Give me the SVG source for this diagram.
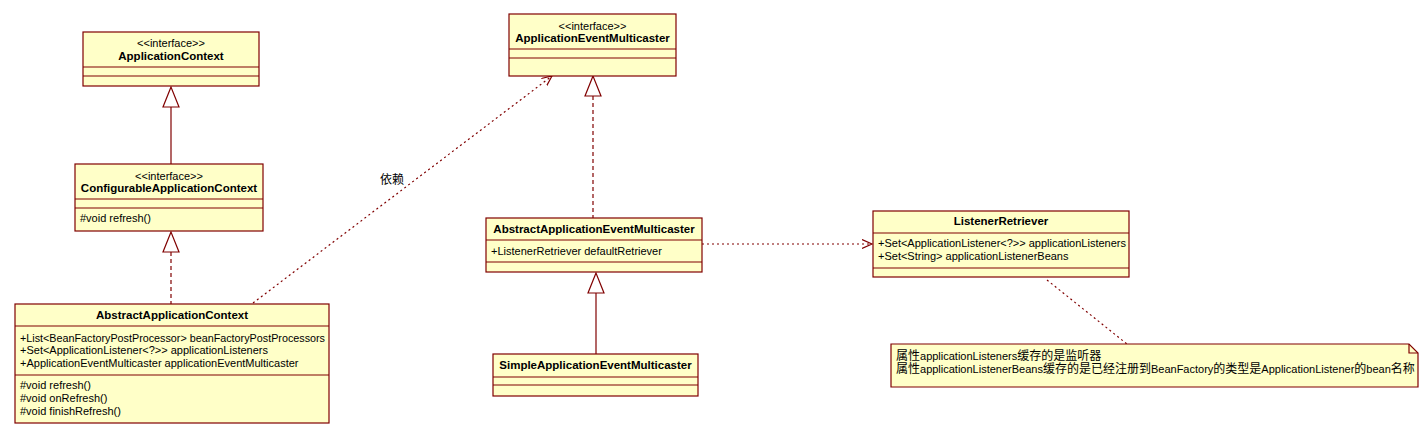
<svg xmlns="http://www.w3.org/2000/svg" width="1427" height="428" viewBox="0 0 1427 428">
<style>
.box{fill:#FFFFC8;stroke:#800000;stroke-width:1.2}
.sep{stroke:#800000;stroke-width:1.2}
.t{font-family:"Liberation Sans","Noto Sans CJK SC",sans-serif;font-size:11px;fill:#000}
.c{font-size:12px}
.b{font-weight:bold;font-size:11.5px}
.m{text-anchor:middle}
.ln{stroke:#800000;stroke-width:1.2;fill:none}
.dash{stroke-dasharray:4,3}
.dot{stroke-dasharray:2,3}
.tri{fill:#fff;stroke:#800000;stroke-width:1.2}
</style>
<defs>
<marker id="open" markerWidth="12" markerHeight="12" refX="10" refY="5" orient="auto" markerUnits="userSpaceOnUse">
<path d="M0,0.5 L10,5 L0,9.5" fill="none" stroke="#800000" stroke-width="1.2"/>
</marker>
</defs>
<rect width="1427" height="428" fill="#fff"/>
<g id="connectors">
<line class="ln" x1="171" y1="107" x2="171" y2="164"/>
<polygon class="tri" points="171,87 163,107 179,107"/>
<line class="ln dash" x1="171" y1="252" x2="171" y2="304"/>
<polygon class="tri" points="171,232 163,252 179,252"/>
<line class="ln dot" x1="253" y1="303" x2="552" y2="76" marker-end="url(#open)"/>
<text class="t c" x="392" y="184" text-anchor="middle">依赖</text>
<line class="ln dash" x1="593" y1="96" x2="593" y2="218"/>
<polygon class="tri" points="593,76 585,96 601,96"/>
<line class="ln" x1="596" y1="293" x2="596" y2="354"/>
<polygon class="tri" points="596,273 588,293 604,293"/>
<line class="ln dot" x1="702" y1="244" x2="872" y2="244" marker-end="url(#open)"/>
<line class="ln dot" x1="1047" y1="280" x2="1127" y2="344"/>
</g>
<g id="ApplicationContext">
<rect class="box" x="83" y="32" width="176" height="54"/>
<line class="sep" x1="83" y1="67" x2="259" y2="67"/>
<line class="sep" x1="83" y1="76" x2="259" y2="76"/>
<text class="t m" x="171" y="47">&lt;&lt;interface&gt;&gt;</text>
<text class="t b m" x="171" y="60">ApplicationContext</text>
</g>
<g id="ConfigurableApplicationContext">
<rect class="box" x="75" y="164" width="188" height="67"/>
<line class="sep" x1="75" y1="199" x2="263" y2="199"/>
<line class="sep" x1="75" y1="208" x2="263" y2="208"/>
<text class="t m" x="169" y="180">&lt;&lt;interface&gt;&gt;</text>
<text class="t b m" x="169" y="192">ConfigurableApplicationContext</text>
<text class="t" x="80" y="222">#void refresh()</text>
</g>
<g id="AbstractApplicationContext">
<rect class="box" x="15" y="304" width="314" height="119"/>
<line class="sep" x1="15" y1="326" x2="329" y2="326"/>
<line class="sep" x1="15" y1="375" x2="329" y2="375"/>
<text class="t b m" x="172" y="319">AbstractApplicationContext</text>
<text class="t" x="20" y="342" textLength="305" lengthAdjust="spacingAndGlyphs">+List&lt;BeanFactoryPostProcessor&gt; beanFactoryPostProcessors</text>
<text class="t" x="20" y="354">+Set&lt;ApplicationListener&lt;?&gt;&gt; applicationListeners</text>
<text class="t" x="20" y="367">+ApplicationEventMulticaster applicationEventMulticaster</text>
<text class="t" x="20" y="389">#void refresh()</text>
<text class="t" x="20" y="402">#void onRefresh()</text>
<text class="t" x="20" y="415">#void finishRefresh()</text>
</g>
<g id="ApplicationEventMulticaster">
<rect class="box" x="509" y="14" width="167" height="62"/>
<line class="sep" x1="509" y1="49" x2="676" y2="49"/>
<line class="sep" x1="509" y1="58" x2="676" y2="58"/>
<text class="t m" x="592.5" y="30">&lt;&lt;interface&gt;&gt;</text>
<text class="t b m" x="592.5" y="42">ApplicationEventMulticaster</text>
</g>
<g id="AbstractApplicationEventMulticaster">
<rect class="box" x="486" y="218" width="216" height="54"/>
<line class="sep" x1="486" y1="240" x2="702" y2="240"/>
<line class="sep" x1="486" y1="262" x2="702" y2="262"/>
<text class="t b m" x="594" y="233">AbstractApplicationEventMulticaster</text>
<text class="t" x="491" y="255">+ListenerRetriever defaultRetriever</text>
</g>
<g id="SimpleApplicationEventMulticaster">
<rect class="box" x="493" y="354" width="205" height="42"/>
<line class="sep" x1="493" y1="377" x2="698" y2="377"/>
<line class="sep" x1="493" y1="385" x2="698" y2="385"/>
<text class="t b m" x="595.5" y="369">SimpleApplicationEventMulticaster</text>
</g>
<g id="ListenerRetriever">
<rect class="box" x="873" y="211" width="256" height="66"/>
<line class="sep" x1="873" y1="233" x2="1129" y2="233"/>
<line class="sep" x1="873" y1="268" x2="1129" y2="268"/>
<text class="t b m" x="1001" y="225">ListenerRetriever</text>
<text class="t" x="878" y="247">+Set&lt;ApplicationListener&lt;?&gt;&gt; applicationListeners</text>
<text class="t" x="878" y="260">+Set&lt;String&gt; applicationListenerBeans</text>
</g>
<g id="note">
<path class="box" d="M891,344 L1409,344 L1418,353 L1418,387 L891,387 Z"/>
<path class="ln" d="M1409,344 L1409,353 L1418,353"/>
<text class="t" x="896" y="360"><tspan class="c">属性</tspan>applicationListeners<tspan class="c">缓存的是监听器</tspan></text>
<text class="t" x="896" y="373"><tspan class="c">属性</tspan>applicationListenerBeans<tspan class="c">缓存的是已经注册到</tspan>BeanFactory<tspan class="c">的类型是</tspan>ApplicationListener<tspan class="c">的</tspan>bean<tspan class="c">名称</tspan></text>
</g>
</svg>
